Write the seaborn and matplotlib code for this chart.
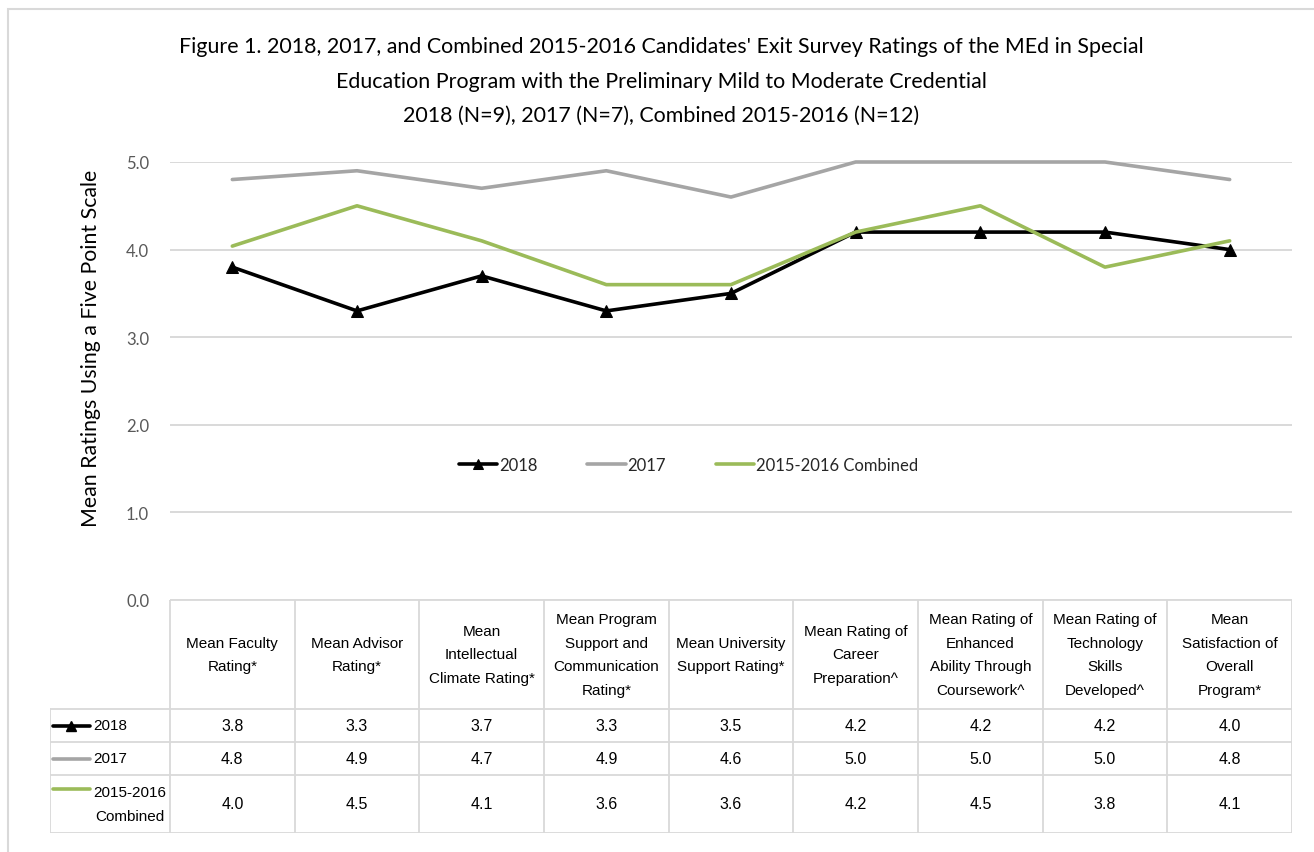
import matplotlib
matplotlib.use("Agg")
import matplotlib.pyplot as plt
import seaborn as sns
import pandas as pd
from matplotlib.lines import Line2D
from matplotlib.patches import Rectangle

categories = [
    "Mean Faculty\nRating*",
    "Mean Advisor\nRating*",
    "Mean\nIntellectual\nClimate Rating*",
    "Mean Program\nSupport and\nCommunication\nRating*",
    "Mean University\nSupport Rating*",
    "Mean Rating of\nCareer\nPreparation^",
    "Mean Rating of\nEnhanced\nAbility Through\nCoursework^",
    "Mean Rating of\nTechnology\nSkills\nDeveloped^",
    "Mean\nSatisfaction of\nOverall\nProgram*",
]
series_names = ["2018", "2017", "2015-2016 Combined"]
row_labels = ["2018", "2017", "2015-2016\nCombined"]
ratings_2018 = [3.8, 3.3, 3.7, 3.3, 3.5, 4.2, 4.2, 4.2, 4.0]
ratings_2017 = [4.8, 4.9, 4.7, 4.9, 4.6, 5.0, 5.0, 5.0, 4.8]
ratings_combined = [4.04, 4.5, 4.1, 3.6, 3.6, 4.2, 4.5, 3.8, 4.1]
yticks = [0, 1, 2, 3, 4, 5]

title_lines = [
    "Figure 1. 2018, 2017, and Combined 2015-2016 Candidates' Exit Survey Ratings of the MEd in Special",
    "Education Program with the Preliminary Mild to Moderate Credential",
    "2018 (N=9), 2017 (N=7), Combined 2015-2016 (N=12)",
]
ylabel = "Mean Ratings Using a Five Point Scale"

colors = ["#000000", "#A5A5A5", "#9BBB59"]
markers = ["^", None, None]

sns.set_style("white")
head_font = ["Lato", "DejaVu Sans"]
cell_font = ["Liberation Sans", "DejaVu Sans"]
plt.rcParams["font.family"] = head_font

W, H = 1314, 853


def px_rect(x0, y0, x1, y1):
    return [x0 / W, 1 - y1 / H, (x1 - x0) / W, (y1 - y0) / H]


fig = plt.figure(figsize=(W / 100, H / 100), dpi=100)
fig.patches.append(Rectangle((8 / W, -0.05), 2, (H - 10) / H + 0.05, transform=fig.transFigure,
                             fill=False, edgecolor="#D9D9D9", linewidth=1.5))

ax = fig.add_axes(px_rect(170, 163, 1292, 601))
positions = list(range(len(categories)))
all_series = [ratings_2018, ratings_2017, ratings_combined]

for name, vals, col, mk in zip(series_names, all_series, colors, markers):
    df = pd.DataFrame({"pos": positions, "rating": vals})
    sns.lineplot(data=df, x="pos", y="rating", ax=ax, color=col, linewidth=2.6,
                 marker=mk, markersize=9, markeredgecolor=col, label=name,
                 clip_on=False, zorder=3)

ax.set_xlim(-0.5, len(categories) - 0.5)
ax.set_ylim(0, 5)
ax.set_yticks(yticks)
ax.set_yticklabels([f"{v:.1f}" for v in yticks], color="#595959", fontsize=12)
ax.set_xticks([])
ax.set_xlabel("")
ax.set_ylabel("")
ax.tick_params(axis="y", length=0, pad=15)
ax.grid(axis="y", color="#D9D9D9", linewidth=1.4)
ax.set_axisbelow(True)
for s in ax.spines.values():
    s.set_visible(False)

handles, labels = ax.get_legend_handles_labels()
leg = ax.legend(handles, labels, loc="center", bbox_to_anchor=(0.462, 0.308), ncol=3,
                frameon=False, fontsize=12, handlelength=2.3, handletextpad=0.1,
                columnspacing=3.0, markerscale=0.8)

for k, line in enumerate(title_lines):
    fig.text(661 / W, 1 - (47 + 34.5 * k) / H, line, ha="center", va="center",
             fontsize=15.4, color="#000000")
fig.text(91 / W, 1 - 348 / H, ylabel, rotation=90, ha="center", va="center",
         fontsize=15.3, color="#000000")

# data table under the plot
tab = fig.add_axes(px_rect(50, 601, 1292, 834))
unit = (1292 - 170) / len(categories)
x_left = -0.5 - 120 / unit
row_h = [109, 33, 33, 58]
bounds = [sum(row_h[:i]) for i in range(len(row_h) + 1)]
tab.set_xlim(x_left, len(categories) - 0.5)
tab.set_ylim(bounds[-1], 0)
tab.axis("off")

grid_kw = dict(color="#D9D9D9", linewidth=1.3)
for k in range(len(categories) + 1):
    tab.plot([k - 0.5, k - 0.5], [0, bounds[-1]], **grid_kw)
tab.plot([x_left, x_left], [bounds[1], bounds[-1]], **grid_kw)
tab.plot([-0.5, len(categories) - 0.5], [0, 0], **grid_kw)
for b in bounds[1:]:
    tab.plot([x_left, len(categories) - 0.5], [b, b], **grid_kw)

for i, cat in enumerate(categories):
    tab.text(i, bounds[1] / 2, cat, ha="center", va="center", fontsize=11,
             family=cell_font, linespacing=1.85, color="#000000")

for r, (vals, lab, col, mk) in enumerate(zip(all_series, row_labels, colors, markers)):
    yc = (bounds[r + 1] + bounds[r + 2]) / 2
    for i, v in enumerate(vals):
        tab.text(i, yc, f"{v:.1f}", ha="center", va="center", fontsize=11.5,
                 family=cell_font, color="#000000")
    yl = yc if "\n" not in lab else bounds[r + 1] + 14
    tab.add_line(Line2D([x_left + 3 / unit, x_left + 40 / unit], [yl, yl], color=col,
                        linewidth=2.6))
    if mk:
        tab.plot([x_left + 21 / unit], [yl], marker=mk, color=col, markersize=7)
    tab.text(x_left + 43 / unit, yc, lab, ha="left", va="center", fontsize=11,
             family=cell_font, multialignment="center", linespacing=1.85,
             color="#000000")

fig.savefig("out.png", dpi=100)
